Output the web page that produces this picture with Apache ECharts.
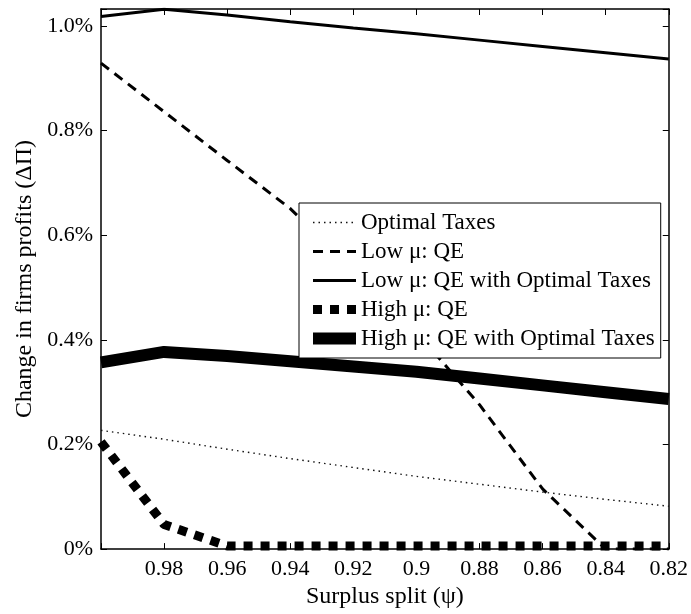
<!DOCTYPE html>
<html>
<head>
<meta charset="utf-8">
<script src="https://cdn.jsdelivr.net/npm/echarts@6/dist/echarts.min.js"></script>
<style>html,body{margin:0;padding:0;background:#fff}#c{width:691px;height:614px}</style>
</head>
<body>
<div id="c"></div>
<script>
// Data (percent)
const psi = [1.00, 0.98, 0.96, 0.94, 0.92, 0.90, 0.88, 0.86, 0.84, 0.82];
const optimalTaxes = [0.227, 0.210, 0.191, 0.173, 0.156, 0.139, 0.124, 0.109, 0.095, 0.082];
const lowMuQE = [0.929, 0.836, 0.743, 0.651, 0.534, 0.415, 0.276, 0.115, 0.0, 0.0];
const lowMuQEOT = [1.018, 1.032, 1.021, 1.008, 0.996, 0.985, 0.973, 0.961, 0.949, 0.937];
const highMuQE = [0.205, 0.047, 0.006, 0.006, 0.006, 0.006, 0.006, 0.006, 0.006, 0.006];
const highMuQEOT = [0.357, 0.377, 0.369, 0.359, 0.349, 0.339, 0.326, 0.313, 0.300, 0.287];
const seriesNames = ['Optimal Taxes', 'Low \u03bc: QE', 'Low \u03bc: QE with Optimal Taxes', 'High \u03bc: QE', 'High \u03bc: QE with Optimal Taxes'];

const FONT = '"Liberation Serif", "DejaVu Serif", serif';
const pairs = ys => psi.map((x, i) => [x, ys[i]]);

const styles = [
  {color: '#111', width: 1.4, type: [1.5, 4]},
  {color: '#000', width: 3, type: [10, 7]},
  {color: '#000', width: 3, type: 'solid'},
  {color: '#000', width: 9, type: [9, 8]},
  {color: '#000', width: 12, type: 'solid'}
];

const chart = echarts.init(document.getElementById('c'), null, {renderer: 'canvas'});
const mkX = (pos, labels) => ({
  type: 'value', position: pos, inverse: true, min: 0.82, max: 1.0, interval: 0.02,
  axisLine: {show: true, onZero: false, lineStyle: {color: '#000', width: 1.5}},
  axisTick: {show: true, inside: true, length: 6, lineStyle: {color: '#000', width: 1}},
  splitLine: {show: false},
  axisLabel: {show: labels, margin: 9, color: '#000', fontFamily: FONT, fontSize: 22,
    formatter: v => (v > 0.999 ? '' : String(+v.toFixed(2)))},
  name: labels ? 'Surplus split (\u03c8)' : '', nameLocation: 'middle', nameGap: 31,
  nameTextStyle: {color: '#000', fontFamily: FONT, fontSize: 24}
});
const mkY = (pos, labels) => ({
  type: 'value', position: pos, min: 0, max: 1.0325, interval: 0.2,
  axisLine: {show: true, lineStyle: {color: '#000', width: 1.5}},
  axisTick: {show: true, inside: true, length: 6, lineStyle: {color: '#000', width: 1}},
  splitLine: {show: false},
  axisLabel: {show: labels, margin: 8, color: '#000', fontFamily: FONT, fontSize: 22,
    formatter: v => (v > 1.01 ? '' : (v === 0 ? '0%' : v.toFixed(1) + '%'))},
  name: labels ? 'Change in firms profits (\u0394\u03a0)' : '', nameLocation: 'middle', nameGap: 60,
  nameTextStyle: {color: '#000', fontFamily: FONT, fontSize: 24}
});

chart.setOption({
  animation: false,
  backgroundColor: '#fff',
  grid: {left: 101, right: 21, top: 9, bottom: 61, show: false},
  xAxis: [mkX('bottom', true), mkX('top', false)],
  yAxis: [mkY('left', true), mkY('right', false)],
  legend: {
    orient: 'vertical', left: 299, top: 203,
    backgroundColor: '#fff', borderColor: '#000', borderWidth: 1, borderRadius: 0,
    padding: [8, 6, 8, 8], itemGap: 6, itemWidth: 43, itemHeight: 14,
    textStyle: {color: '#000', fontFamily: FONT, fontSize: 23},
    itemStyle: {opacity: 0, color: 'transparent', borderWidth: 0},
    data: seriesNames.map((n, i) => ({name: n, lineStyle: {color: styles[i].color, width: styles[i].width, type: styles[i].type, opacity: 1}}))
  },
  series: seriesNames.map((n, i) => ({
    name: n, type: 'line', data: pairs([optimalTaxes, lowMuQE, lowMuQEOT, highMuQE, highMuQEOT][i]),
    symbol: 'none', z: i === 0 ? 2 : 3,
    lineStyle: styles[i], itemStyle: {color: styles[i].color}
  }))
});
</script>
</body>
</html>
